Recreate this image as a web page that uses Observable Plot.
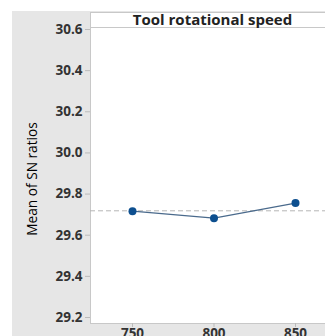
<!DOCTYPE html>
<html>
<head>
<meta charset="utf-8">
<script src="https://cdn.jsdelivr.net/npm/d3@7"></script>
<script src="https://cdn.jsdelivr.net/npm/@observablehq/plot@0.6"></script>
<style>
  html, body { margin: 0; padding: 0; background: white; overflow: hidden; }
  #wrap { position: relative; width: 325px; height: 336px; overflow: hidden; background: white; }
  #panel { position: absolute; left: 12px; top: 11px; right: 0; bottom: 0; background: #e6e6e6; }
  #chart { position: absolute; left: 0; top: 0; }
  #header { position: absolute; left: 90px; top: 12px; width: 245px; height: 15px; border-bottom: 1px solid #c8c8c8;
            font: bold 15px "Open Sans", sans-serif; color: #222; text-align: center; line-height: 14px; }
  #ylabel { position: absolute; left: 31px; top: 179px; transform: translate(-50%, -50%) rotate(-90deg);
            font: 13.7px "Open Sans", sans-serif; color: #000; white-space: nowrap; }
</style>
</head>
<body>
<div id="wrap">
  <div id="panel"></div>
  <div id="chart"></div>
  <div id="header"></div>
  <div id="ylabel"></div>
</div>
<script>
const title = "Tool rotational speed";
const yLabel = "Mean of SN ratios";
const speeds = [750, 800, 850];
const snMeans = [29.717, 29.683, 29.756];
const yTicks = [29.2, 29.4, 29.6, 29.8, 30.0, 30.2, 30.4, 30.6];
const xTicks = [750, 800, 850];

const data = speeds.map((s, i) => ({speed: s, sn: snMeans[i]}));
const grandMean = d3.mean(snMeans);

const plot = Plot.plot({
  width: 325,
  height: 336,
  marginLeft: 90,
  marginTop: 12,
  marginBottom: 13,
  marginRight: -10,
  style: {background: "transparent", fontFamily: "Open Sans, sans-serif", fontSize: "13.5px", color: "#333"},
  x: {domain: [750, 850], insetLeft: 42, insetRight: 40},
  y: {domain: [29.2, 30.6], insetTop: 17, insetBottom: 6},
  marks: [
    Plot.frame({fill: "white", stroke: "#c8c8c8"}),
    Plot.axisY({ticks: yTicks, tickFormat: d3.format(".1f"), tickSize: 5, tickPadding: 3, stroke: "#bbb", fill: "#333", fontWeight: "bold", label: null}),
    Plot.axisX({ticks: xTicks, tickSize: 4, tickPadding: 1, stroke: "#bbb", fill: "#333", fontWeight: "bold", label: null}),
    Plot.ruleY([grandMean], {stroke: "#b5b5b5", strokeDasharray: "5,3", strokeWidth: 1}),
    Plot.line(data, {x: "speed", y: "sn", stroke: "#4a6a8c", strokeWidth: 1.2}),
    Plot.dot(data, {x: "speed", y: "sn", r: 4, fill: "#0d4f8f", stroke: "none"})
  ]
});
document.getElementById("chart").appendChild(plot);
document.getElementById("header").textContent = title;
document.getElementById("ylabel").textContent = yLabel;
</script>
</body>
</html>
